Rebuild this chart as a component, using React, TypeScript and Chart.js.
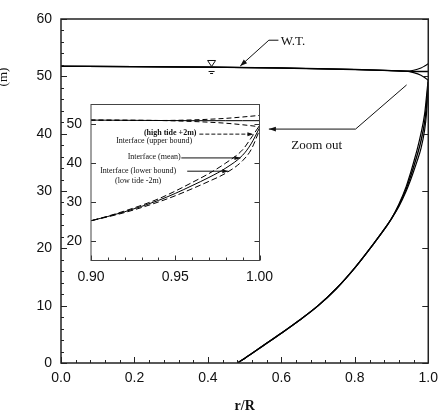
import React, { useEffect, useRef } from "react";
import { Chart, registerables } from "chart.js";

Chart.register(...registerables);

const W = 445;
const H = 410;

// Axis tick labels
const xTickValues = [0, 0.2, 0.4, 0.6, 0.8, 1.0];
const yTickValues = [0, 10, 20, 30, 40, 50, 60];
const insetXTickValues = [0.9, 0.95, 1.0];
const insetYTickValues = [20, 30, 40, 50];

// Freshwater/saltwater interface elevation (m) against r/R
const ifaceR = [0.48, 0.5, 0.55, 0.6, 0.65, 0.7, 0.75, 0.8, 0.85, 0.88, 0.9, 0.92, 0.94, 0.95, 0.96, 0.97, 0.98, 0.99, 0.995, 1.0];
const ifaceMean = [0.0, 0.8, 3.0, 5.2, 7.5, 10.0, 13.0, 16.6, 20.7, 23.3, 25.2, 27.5, 30.4, 32.2, 34.2, 36.3, 38.7, 42.0, 44.9, 49.0];
const ifaceUpper = [0.0, 0.8, 3.0, 5.2, 7.5, 10.0, 13.0, 16.6, 20.7, 23.3, 25.2, 27.7, 30.8, 32.8, 35.0, 37.3, 40.0, 43.4, 46.4, 49.6];
const ifaceLower = [0.0, 0.8, 3.0, 5.2, 7.5, 10.0, 13.0, 16.6, 20.7, 23.3, 25.2, 27.3, 30.0, 31.6, 33.4, 35.3, 37.4, 40.6, 43.4, 48.4];

// Water table elevation (m) against r/R
const wtR = [0, 0.2, 0.4, 0.6, 0.8, 0.9, 0.94, 0.96, 0.98, 0.99, 1.0];
const wtMean = [51.75, 51.7, 51.6, 51.45, 51.2, 51.0, 50.9, 50.85, 50.85, 50.85, 50.85];
const wtHigh = [51.75, 51.7, 51.6, 51.45, 51.2, 51.0, 50.9, 51.05, 51.45, 51.8, 52.2];
const wtLow = [51.75, 51.7, 51.6, 51.45, 51.2, 51.0, 50.9, 50.65, 50.2, 49.8, 49.3];

const SANS = '"Liberation Sans", Arial, sans-serif';
const SERIF = '"Liberation Serif", "Times New Roman", serif';
const INK = "#111";

const pts = (xs: number[], ys: number[]) => xs.map((x, i) => ({ x, y: ys[i] }));

const series = (data: any[], extra: any = {}) => ({
  data,
  borderColor: "#000",
  borderWidth: 1.3,
  pointRadius: 0,
  fill: false,
  cubicInterpolationMode: "monotone",
  ...extra,
});

function arrowHead(ctx: CanvasRenderingContext2D, fx: number, fy: number, tx: number, ty: number, len = 6, half = 2.2) {
  const ang = Math.atan2(ty - fy, tx - fx);
  ctx.beginPath();
  ctx.moveTo(tx, ty);
  ctx.lineTo(tx - len * Math.cos(ang) + half * Math.sin(ang), ty - len * Math.sin(ang) - half * Math.cos(ang));
  ctx.lineTo(tx - len * Math.cos(ang) - half * Math.sin(ang), ty - len * Math.sin(ang) + half * Math.cos(ang));
  ctx.closePath();
  ctx.fill();
}

// Inward tick marks drawn along the plot frame
function inwardTicks(chart: any, spec: any) {
  const { ctx, chartArea: a, scales } = chart;
  const xs = scales.x;
  const ys = scales.y;
  ctx.save();
  ctx.strokeStyle = spec.color;
  ctx.lineWidth = 1;
  ctx.beginPath();
  const bottom = (vals: number[], len: number) =>
    vals.forEach((v) => {
      const p = Math.round(xs.getPixelForValue(v)) + 0.5;
      ctx.moveTo(p, a.bottom);
      ctx.lineTo(p, a.bottom - len);
    });
  const left = (vals: number[], len: number) =>
    vals.forEach((v) => {
      const p = Math.round(ys.getPixelForValue(v)) + 0.5;
      ctx.moveTo(a.left, p);
      ctx.lineTo(a.left + len, p);
    });
  const right = (vals: number[], len: number) =>
    vals.forEach((v) => {
      const p = Math.round(ys.getPixelForValue(v)) + 0.5;
      ctx.moveTo(a.right, p);
      ctx.lineTo(a.right - len, p);
    });
  bottom(spec.xMajor, spec.majorLen);
  bottom(spec.xMinor, spec.minorLen);
  left(spec.yMajor, spec.majorLen);
  left(spec.yMinor, spec.minorLen);
  right(spec.yMajor, spec.majorLen);
  ctx.stroke();
  ctx.lineWidth = spec.frameWidth;
  ctx.strokeStyle = spec.frameColor;
  ctx.strokeRect(a.left, a.top, a.right - a.left, a.bottom - a.top);
  ctx.restore();
}

const mainDecor = {
  id: "mainDecor",
  afterDraw(chart: any) {
    const { ctx, scales } = chart;
    const px = (v: number) => scales.x.getPixelForValue(v);
    const py = (v: number) => scales.y.getPixelForValue(v);

    const xMinor: number[] = [];
    for (let k = 1; k < 25; k++) if (k % 5 !== 0) xMinor.push(k * 0.04);
    const yMinor: number[] = [];
    for (let k = 1; k < 30; k++) if (k % 5 !== 0) yMinor.push(k * 2);
    inwardTicks(chart, {
      color: "#222", majorLen: 6, minorLen: 3,
      xMajor: xTickValues, xMinor, yMajor: yTickValues, yMinor,
      frameWidth: 1.5, frameColor: "#222",
    });

    ctx.save();
    ctx.strokeStyle = INK;
    ctx.fillStyle = INK;
    ctx.lineWidth = 1;

    // W.T. leader and label
    const tipX = px(0.488), tipY = py(51.8);
    const elX = px(0.566), elY = py(56.3);
    ctx.beginPath();
    ctx.moveTo(px(0.592), elY);
    ctx.lineTo(elX, elY);
    ctx.lineTo(tipX, tipY);
    ctx.stroke();
    arrowHead(ctx, elX, elY, tipX, tipY, 7, 2.5);
    ctx.font = `13px ${SERIF}`;
    ctx.textAlign = "left";
    ctx.textBaseline = "middle";
    ctx.fillText("W.T.", px(0.598), py(56.0));

    // water-table symbol
    const sx = px(0.41), sy = py(51.63);
    ctx.beginPath();
    ctx.moveTo(sx - 4, sy - 6.5);
    ctx.lineTo(sx + 4, sy - 6.5);
    ctx.lineTo(sx, sy - 0.5);
    ctx.closePath();
    ctx.stroke();
    ctx.beginPath();
    ctx.moveTo(sx - 3, sy + 4.5);
    ctx.lineTo(sx + 3, sy + 4.5);
    ctx.moveTo(sx - 1.5, sy + 6.5);
    ctx.lineTo(sx + 1.5, sy + 6.5);
    ctx.stroke();

    // Zoom out leader and label
    const zTipX = px(0.566), zY = py(40.8);
    ctx.beginPath();
    ctx.moveTo(px(0.941), py(48.5));
    ctx.lineTo(px(0.802), zY);
    ctx.lineTo(zTipX, zY);
    ctx.stroke();
    arrowHead(ctx, zTipX + 10, zY, zTipX, zY, 7, 2.3);
    ctx.font = `13px ${SERIF}`;
    ctx.fillText("Zoom out", px(0.627), py(37.85));

    // vertical axis caption (clipped at the page edge)
    ctx.translate(4, 77);
    ctx.rotate(-Math.PI / 2);
    ctx.font = `13px ${SERIF}`;
    ctx.textAlign = "center";
    ctx.fillText("(m)", 0, 0);
    ctx.restore();
  },
};

const insetDecor = {
  id: "insetDecor",
  beforeDraw(chart: any) {
    const { ctx, chartArea: a } = chart;
    ctx.save();
    ctx.fillStyle = "#fff";
    ctx.fillRect(a.left, a.top, a.right - a.left, a.bottom - a.top);
    ctx.restore();
  },
  afterDraw(chart: any) {
    const { ctx, scales } = chart;
    const px = (v: number) => scales.x.getPixelForValue(v);
    const py = (v: number) => scales.y.getPixelForValue(v);
    const xMinor: number[] = [];
    for (let k = 1; k < 10; k++) if (k !== 5) xMinor.push(0.9 + k * 0.01);
    inwardTicks(chart, {
      color: "#333", majorLen: 5, minorLen: 3,
      xMajor: insetXTickValues, xMinor, yMajor: insetYTickValues, yMinor: [],
      frameWidth: 1, frameColor: "#444",
    });

    ctx.save();
    ctx.fillStyle = INK;
    ctx.strokeStyle = INK;
    ctx.lineWidth = 1;
    ctx.textAlign = "center";
    ctx.textBaseline = "middle";
    ctx.font = `bold 8px ${SERIF}`;
    ctx.fillText("(high tide +2m)", px(0.947), py(47.7));
    ctx.font = `8px ${SERIF}`;
    ctx.fillText("Interface (upper bound)", px(0.9375), py(45.6));
    ctx.fillText("Interface (mean)", px(0.9375), py(41.5));
    ctx.fillText("Interface (lower bound)", px(0.928), py(37.9));
    ctx.fillText("(low tide -2m)", px(0.928), py(35.4));

    // high tide pointer (dashed)
    ctx.setLineDash([4, 2]);
    ctx.beginPath();
    ctx.moveTo(px(0.9643), py(47.4));
    ctx.lineTo(px(0.9964), py(47.4));
    ctx.stroke();
    ctx.setLineDash([]);
    arrowHead(ctx, px(0.99), py(47.4), px(0.9964), py(47.4), 6, 2);

    // mean pointer
    ctx.beginPath();
    ctx.moveTo(px(0.9536), py(41.3));
    ctx.lineTo(px(0.9887), py(41.3));
    ctx.stroke();
    arrowHead(ctx, px(0.98), py(41.3), px(0.9887), py(41.3), 6, 2);

    // lower pointer
    ctx.beginPath();
    ctx.moveTo(px(0.9571), py(37.9));
    ctx.lineTo(px(0.9815), py(37.9));
    ctx.stroke();
    arrowHead(ctx, px(0.975), py(37.9), px(0.9815), py(37.9), 6, 2);
    ctx.restore();
  },
};

const tickFont = { family: SANS, size: 14 };

export default function App() {
  const mainRef = useRef<HTMLCanvasElement>(null);
  const insetRef = useRef<HTMLCanvasElement>(null);

  useEffect(() => {
    const main = new Chart(mainRef.current as HTMLCanvasElement, {
      type: "line",
      data: {
        datasets: [
          series(pts(wtR, wtHigh), { borderWidth: 1.1 }),
          series(pts(wtR, wtLow), { borderWidth: 1.1 }),
          series(pts(wtR, wtMean), { borderWidth: 1.4 }),
          series(pts(ifaceR, ifaceUpper), { borderWidth: 1.2 }),
          series(pts(ifaceR, ifaceLower), { borderWidth: 1.2 }),
          series(pts(ifaceR, ifaceMean), { borderWidth: 1.4 }),
        ],
      } as any,
      options: {
        responsive: false,
        animation: false,
        events: [],
        layout: { padding: { left: 21, right: 11, top: 19, bottom: 0 } },
        plugins: { legend: { display: false }, tooltip: { enabled: false } },
        scales: {
          x: {
            type: "linear",
            min: 0,
            max: 1,
            grid: { display: false, drawTicks: false },
            border: { display: false },
            afterBuildTicks: (s: any) => { s.ticks = xTickValues.map((v) => ({ value: v })); },
            afterFit: (s: any) => { s.height = 47; },
            ticks: {
              font: tickFont, color: INK, padding: 7, maxRotation: 0, autoSkip: false,
              callback: (v: any) => Number(v).toFixed(1),
            },
            title: {
              display: true, text: "r/R", color: INK,
              font: { family: SERIF, size: 14, weight: "bold" },
              padding: { top: 0, bottom: -5 },
            },
          },
          y: {
            type: "linear",
            min: 0,
            max: 60,
            grid: { display: false, drawTicks: false },
            border: { display: false },
            afterBuildTicks: (s: any) => { s.ticks = yTickValues.map((v) => ({ value: v })); },
            afterFit: (s: any) => { s.width = 40; },
            ticks: { font: tickFont, color: INK, padding: 9, callback: (v: any) => String(v) },
          },
        },
      } as any,
      plugins: [mainDecor],
    });

    const inset = new Chart(insetRef.current as HTMLCanvasElement, {
      type: "line",
      data: {
        datasets: [
          series(pts(wtR, wtHigh), { borderWidth: 1, borderDash: [5, 3] }),
          series(pts(wtR, wtLow), { borderWidth: 1, borderDash: [5, 3] }),
          series(pts(wtR, wtMean), { borderWidth: 1 }),
          series(pts(ifaceR, ifaceUpper), { borderWidth: 1, borderDash: [6, 3] }),
          series(pts(ifaceR, ifaceLower), { borderWidth: 1, borderDash: [6, 3] }),
          series(pts(ifaceR, ifaceMean), { borderWidth: 1 }),
        ],
      } as any,
      options: {
        responsive: false,
        animation: false,
        events: [],
        layout: { padding: { left: 61, right: 185.5, top: 104.5, bottom: 119.5 } },
        plugins: { legend: { display: false }, tooltip: { enabled: false } },
        scales: {
          x: {
            type: "linear",
            min: 0.9,
            max: 1.0,
            grid: { display: false, drawTicks: false },
            border: { display: false },
            afterBuildTicks: (s: any) => { s.ticks = insetXTickValues.map((v) => ({ value: v })); },
            afterFit: (s: any) => { s.height = 30; },
            ticks: {
              font: tickFont, color: INK, padding: 8, maxRotation: 0, autoSkip: false,
              callback: (v: any) => Number(v).toFixed(2),
            },
          },
          y: {
            type: "linear",
            min: 15,
            max: 55,
            grid: { display: false, drawTicks: false },
            border: { display: false },
            afterBuildTicks: (s: any) => { s.ticks = insetYTickValues.map((v) => ({ value: v })); },
            afterFit: (s: any) => { s.width = 30; },
            ticks: { font: tickFont, color: INK, padding: 9, callback: (v: any) => String(v) },
          },
        },
      } as any,
      plugins: [insetDecor],
    });

    return () => {
      main.destroy();
      inset.destroy();
    };
  }, []);

  const canvasStyle: React.CSSProperties = { position: "absolute", left: 0, top: 0, width: W, height: H };
  return (
    <div style={{ position: "fixed", left: 0, top: 0, width: W, height: H, background: "#fff", overflow: "hidden" }}>
      <canvas ref={mainRef} width={W} height={H} style={canvasStyle} />
      <canvas ref={insetRef} width={W} height={H} style={canvasStyle} />
    </div>
  );
}
